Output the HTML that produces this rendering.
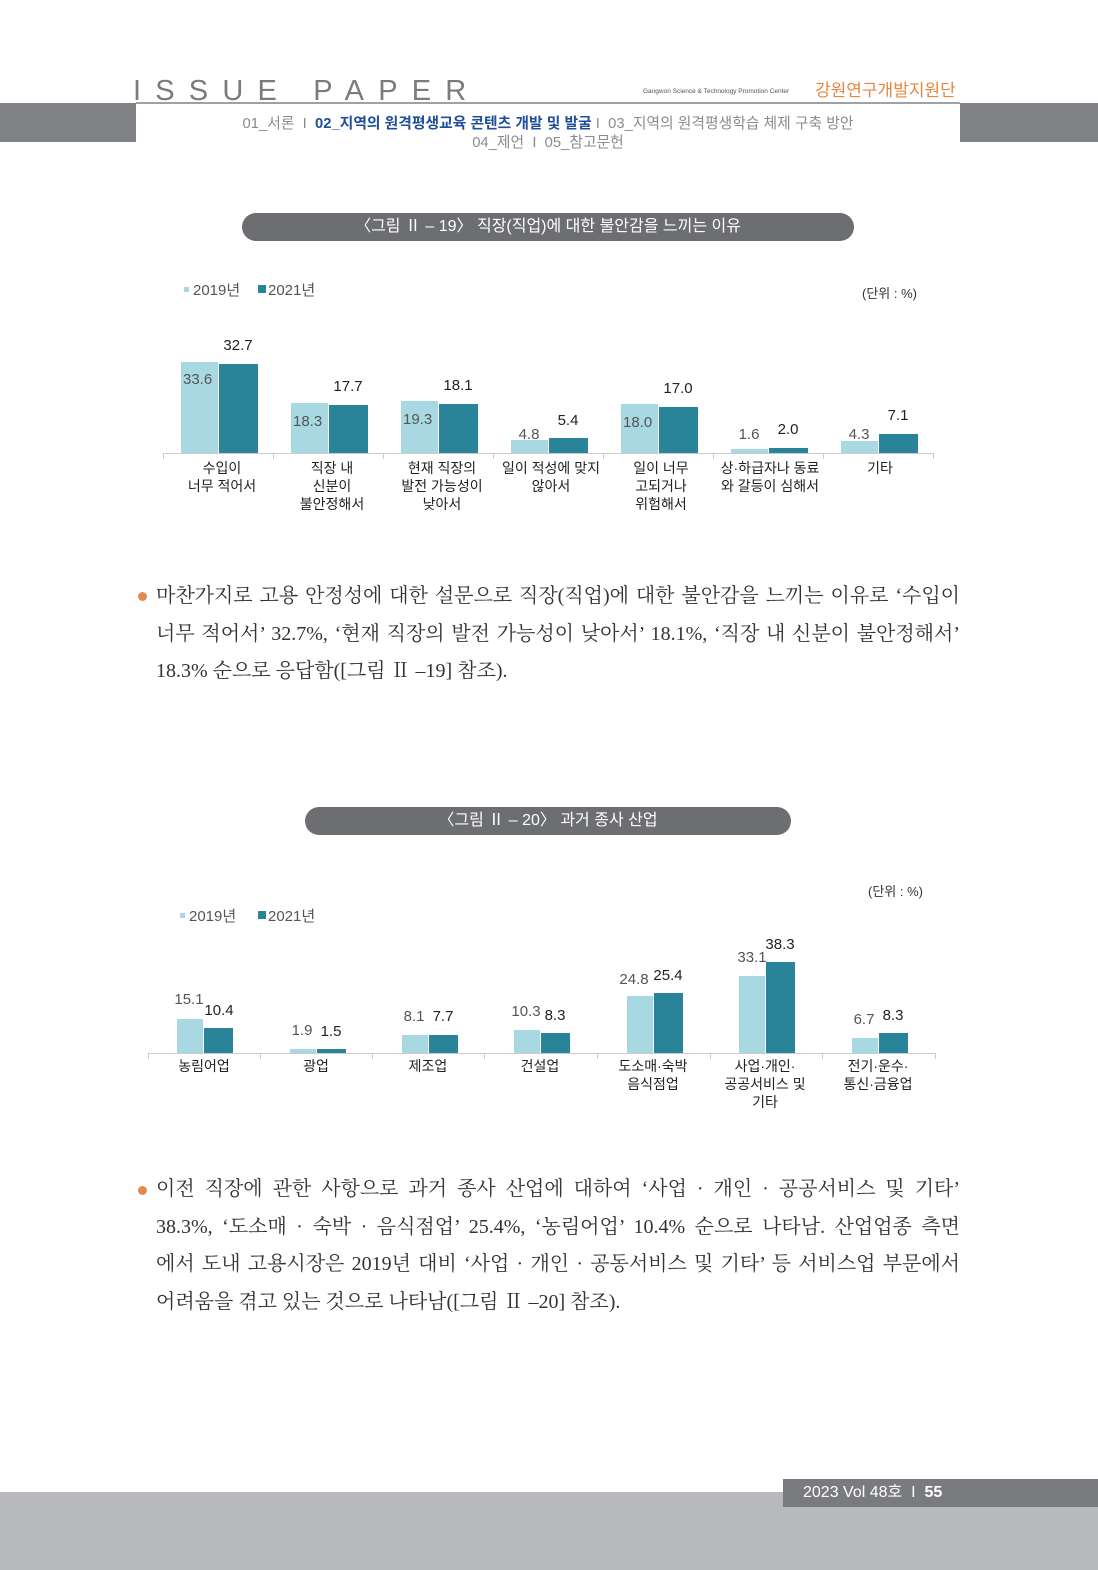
<!DOCTYPE html>
<html><head><meta charset="utf-8">
<style>
body{margin:0;width:1098px;height:1570px;background:#fff;position:relative;overflow:hidden;font-family:"Liberation Sans","Noto Sans CJK KR",sans-serif;}
.abs{position:absolute;}
.pill{position:absolute;background:#6d6e71;color:#fff;border-radius:14px;text-align:center;font-size:16px;line-height:28px;height:28px;}
.para{position:absolute;left:156px;width:804px;font-family:"Liberation Serif","Noto Serif CJK KR",serif;font-size:20px;color:#333;}
.para div{height:37.5px;line-height:37.5px;text-align:justify;text-align-last:justify;white-space:nowrap;}
.para div.last{text-align-last:left;}
.dot{position:absolute;left:138px;width:9px;height:9px;border-radius:50%;background:#e08a4d;}
</style></head><body>
<div class="abs" style="left:133px;top:76px;font-size:29px;color:#7a7b7e;letter-spacing:14.2px;line-height:30px;font-weight:300">ISSUE PAPER</div>
<div class="abs" style="left:643px;top:88px;font-size:6.5px;color:#555">Gangwon Science &amp; Technology Promotion Center</div>
<div class="abs" style="left:815px;top:76px;font-size:17px;color:#e8863f">강원연구개발지원단</div>
<div class="abs" style="left:0;top:103px;width:136px;height:39px;background:#808184"></div>
<div class="abs" style="left:960px;top:103px;width:138px;height:39px;background:#808184"></div>
<div class="abs" style="left:136px;top:102px;width:824px;height:2px;background:#a0a1a4"></div>
<div class="abs" style="left:136px;top:112px;width:824px;text-align:center;font-size:14.8px;color:#8a8b8e;white-space:nowrap">01_서론 &nbsp;Ι&nbsp; <b style="color:#1f4f9a">02_지역의 원격평생교육 콘텐츠 개발 및 발굴</b> Ι&nbsp; 03_지역의 원격평생학습 체제 구축 방안</div>
<div class="abs" style="left:136px;top:131px;width:824px;text-align:center;font-size:14.8px;color:#8a8b8e">04_제언 &nbsp;Ι&nbsp; 05_참고문헌</div>

<div class="pill" style="left:242px;top:213px;width:612px">〈그림 Ⅱ – 19〉 직장(직업)에 대한 불안감을 느끼는 이유</div>

<svg class="abs" style="left:0;top:0" width="1098" height="1570" font-family="Liberation Sans, Noto Sans CJK KR, sans-serif">
<rect x="184" y="287" width="5" height="5" fill="#a8d8e2"/><text x="193" y="295" font-size="15" fill="#555">2019년</text>
<rect x="258" y="285" width="8" height="8" fill="#2a8499"/><text x="268" y="295" font-size="15" fill="#555">2021년</text>
<text x="917" y="298" font-size="13" fill="#333" text-anchor="end">(단위 : %)</text>
<line x1="163" y1="453.5" x2="933" y2="453.5" stroke="#ccc"/>
<g stroke="#ccc"><line x1="163.5" y1="453" x2="163.5" y2="459"/><line x1="273.5" y1="453" x2="273.5" y2="459"/><line x1="383.5" y1="453" x2="383.5" y2="459"/><line x1="493.5" y1="453" x2="493.5" y2="459"/><line x1="603.5" y1="453" x2="603.5" y2="459"/><line x1="713.5" y1="453" x2="713.5" y2="459"/><line x1="823.5" y1="453" x2="823.5" y2="459"/><line x1="933.5" y1="453" x2="933.5" y2="459"/></g>
<g font-size="15">
<rect x="181" y="362" width="37" height="91" fill="#a8d8e2"/><rect x="219" y="364" width="39" height="89" fill="#2a8499"/>
<text x="183" y="384" fill="#555">33.6</text><text x="238" y="350" fill="#222" text-anchor="middle">32.7</text>
<rect x="291" y="403" width="37" height="50" fill="#a8d8e2"/><rect x="329" y="405" width="39" height="48" fill="#2a8499"/>
<text x="293" y="426" fill="#555">18.3</text><text x="348" y="391" fill="#222" text-anchor="middle">17.7</text>
<rect x="401" y="401" width="37" height="52" fill="#a8d8e2"/><rect x="439" y="404" width="39" height="49" fill="#2a8499"/>
<text x="403" y="424" fill="#555">19.3</text><text x="458" y="390" fill="#222" text-anchor="middle">18.1</text>
<rect x="511" y="440" width="37" height="13" fill="#a8d8e2"/><rect x="549" y="438" width="39" height="15" fill="#2a8499"/>
<text x="529" y="439" fill="#555" text-anchor="middle">4.8</text><text x="568" y="425" fill="#222" text-anchor="middle">5.4</text>
<rect x="621" y="404" width="37" height="49" fill="#a8d8e2"/><rect x="659" y="407" width="39" height="46" fill="#2a8499"/>
<text x="623" y="427" fill="#555">18.0</text><text x="678" y="393" fill="#222" text-anchor="middle">17.0</text>
<rect x="731" y="449" width="37" height="4" fill="#a8d8e2"/><rect x="769" y="448" width="39" height="5" fill="#2a8499"/>
<text x="749" y="439" fill="#555" text-anchor="middle">1.6</text><text x="788" y="434" fill="#222" text-anchor="middle">2.0</text>
<rect x="841" y="441" width="37" height="12" fill="#a8d8e2"/><rect x="879" y="434" width="39" height="19" fill="#2a8499"/>
<text x="859" y="439" fill="#555" text-anchor="middle">4.3</text><text x="898" y="420" fill="#222" text-anchor="middle">7.1</text>
</g>
<g font-size="14" fill="#222" text-anchor="middle">
<text x="222" y="473">수입이</text><text x="222" y="491">너무 적어서</text>
<text x="332" y="473">직장 내</text><text x="332" y="491">신분이</text><text x="332" y="509">불안정해서</text>
<text x="442" y="473">현재 직장의</text><text x="442" y="491">발전 가능성이</text><text x="442" y="509">낮아서</text>
<text x="551" y="473">일이 적성에 맞지</text><text x="551" y="491">않아서</text>
<text x="661" y="473">일이 너무</text><text x="661" y="491">고되거나</text><text x="661" y="509">위험해서</text>
<text x="770" y="473">상·하급자나 동료</text><text x="770" y="491">와 갈등이 심해서</text>
<text x="880" y="473">기타</text>
</g>

<text x="923" y="896" font-size="13" fill="#333" text-anchor="end">(단위 : %)</text>
<rect x="180" y="913" width="5" height="5" fill="#a8d8e2"/><text x="189" y="921" font-size="15" fill="#555">2019년</text>
<rect x="258" y="911" width="8" height="8" fill="#2a8499"/><text x="268" y="921" font-size="15" fill="#555">2021년</text>
<line x1="148" y1="1053.5" x2="935" y2="1053.5" stroke="#ccc"/>
<g stroke="#ccc"><line x1="148.5" y1="1053" x2="148.5" y2="1059"/><line x1="260.5" y1="1053" x2="260.5" y2="1059"/><line x1="372.5" y1="1053" x2="372.5" y2="1059"/><line x1="484.5" y1="1053" x2="484.5" y2="1059"/><line x1="597.5" y1="1053" x2="597.5" y2="1059"/><line x1="710.5" y1="1053" x2="710.5" y2="1059"/><line x1="822.5" y1="1053" x2="822.5" y2="1059"/><line x1="935.5" y1="1053" x2="935.5" y2="1059"/></g>
<g font-size="15">
<rect x="177" y="1019" width="26" height="34" fill="#a8d8e2"/><rect x="204" y="1028" width="29" height="25" fill="#2a8499"/>
<text x="189" y="1004" fill="#555" text-anchor="middle">15.1</text><text x="219" y="1015" fill="#222" text-anchor="middle">10.4</text>
<rect x="290" y="1049" width="26" height="4" fill="#a8d8e2"/><rect x="317" y="1049" width="29" height="4" fill="#2a8499"/>
<text x="302" y="1035" fill="#555" text-anchor="middle">1.9</text><text x="331" y="1036" fill="#222" text-anchor="middle">1.5</text>
<rect x="402" y="1035" width="26" height="18" fill="#a8d8e2"/><rect x="429" y="1035" width="29" height="18" fill="#2a8499"/>
<text x="414" y="1021" fill="#555" text-anchor="middle">8.1</text><text x="443" y="1021" fill="#222" text-anchor="middle">7.7</text>
<rect x="514" y="1030" width="26" height="23" fill="#a8d8e2"/><rect x="541" y="1033" width="29" height="20" fill="#2a8499"/>
<text x="526" y="1016" fill="#555" text-anchor="middle">10.3</text><text x="555" y="1020" fill="#222" text-anchor="middle">8.3</text>
<rect x="627" y="996" width="26" height="57" fill="#a8d8e2"/><rect x="654" y="993" width="29" height="60" fill="#2a8499"/>
<text x="634" y="984" fill="#555" text-anchor="middle">24.8</text><text x="668" y="980" fill="#222" text-anchor="middle">25.4</text>
<rect x="739" y="976" width="26" height="77" fill="#a8d8e2"/><rect x="766" y="962" width="29" height="91" fill="#2a8499"/>
<text x="752" y="962" fill="#555" text-anchor="middle">33.1</text><text x="780" y="949" fill="#222" text-anchor="middle">38.3</text>
<rect x="852" y="1038" width="26" height="15" fill="#a8d8e2"/><rect x="879" y="1033" width="29" height="20" fill="#2a8499"/>
<text x="864" y="1024" fill="#555" text-anchor="middle">6.7</text><text x="893" y="1020" fill="#222" text-anchor="middle">8.3</text>
</g>
<g font-size="14" fill="#222" text-anchor="middle">
<text x="204" y="1071">농림어업</text>
<text x="316" y="1071">광업</text>
<text x="428" y="1071">제조업</text>
<text x="540" y="1071">건설업</text>
<text x="653" y="1071">도소매·숙박</text><text x="653" y="1089">음식점업</text>
<text x="765" y="1071">사업·개인·</text><text x="765" y="1089">공공서비스 및</text><text x="765" y="1107">기타</text>
<text x="878" y="1071">전기·운수·</text><text x="878" y="1089">통신·금융업</text>
</g>
</svg>

<div class="dot" style="top:592px"></div>
<div class="para" style="top:578px">
<div>마찬가지로 고용 안정성에 대한 설문으로 직장(직업)에 대한 불안감을 느끼는 이유로 ‘수입이</div>
<div>너무 적어서’ 32.7%, ‘현재 직장의 발전 가능성이 낮아서’ 18.1%, ‘직장 내 신분이 불안정해서’</div>
<div class="last">18.3% 순으로 응답함([그림 Ⅱ –19] 참조).</div>
</div>

<div class="pill" style="left:305px;top:807px;width:486px">〈그림 Ⅱ – 20〉 과거 종사 산업</div>

<div class="dot" style="top:1186px"></div>
<div class="para" style="top:1171px">
<div>이전 직장에 관한 사항으로 과거 종사 산업에 대하여 ‘사업 · 개인 · 공공서비스 및 기타’</div>
<div>38.3%, ‘도소매 · 숙박 · 음식점업’ 25.4%, ‘농림어업’ 10.4% 순으로 나타남. 산업업종 측면</div>
<div>에서 도내 고용시장은 2019년 대비 ‘사업 · 개인 · 공동서비스 및 기타’ 등 서비스업 부문에서</div>
<div class="last">어려움을 겪고 있는 것으로 나타남([그림 Ⅱ –20] 참조).</div>
</div>

<div class="abs" style="left:0;top:1492px;width:1098px;height:78px;background:#b8b9bd"></div>
<div class="abs" style="left:783px;top:1479px;width:315px;height:28px;background:#7a7b7f;color:#fff;font-size:16px;line-height:28px;padding-left:20px;box-sizing:border-box">2023 Vol 48호 &nbsp;Ι&nbsp; <b>55</b></div>
</body></html>
